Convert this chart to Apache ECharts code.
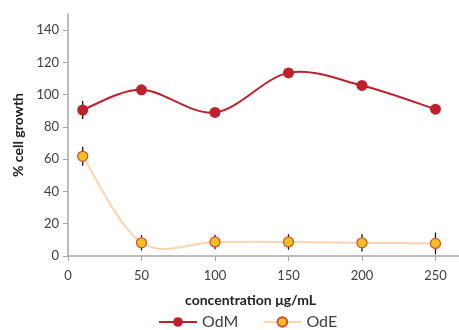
<!DOCTYPE html>
<html>
<head>
<meta charset="utf-8">
<script src="https://cdn.jsdelivr.net/npm/echarts@6/dist/echarts.min.js"></script>
<style>
  html, body { margin: 0; padding: 0; background: #fff; }
  #chart { width: 459px; height: 330px; }
</style>
</head>
<body>
<div id="chart"></div>
<script>
// Concentrations (µg/mL) and % cell growth for the two extracts
const concentrations = [10, 50, 100, 150, 200, 250];
const odmValues = [90.5, 103, 89, 113.5, 105.7, 91];
const odmErrors = [5.6, 1.5, 1.5, 1.5, 1.5, 1.5];
const odeValues = [61.8, 8.2, 8.7, 8.7, 8.2, 7.8];
const odeErrors = [5.9, 4.8, 4.5, 4.8, 5.4, 6.8];
const xTicks = [0, 50, 100, 150, 200, 250];
const yTicks = [0, 20, 40, 60, 80, 100, 120, 140];

const FONT = 'Lato, "Open Sans", sans-serif';
const AXIS_GREY = '#a6a6a6';
const TEXT = '#404040';
const ODM_RED = '#c0202a';
const ODE_LINE = '#fbd3ad';

function pairs(xs, ys) { return xs.map((x, i) => [x, ys[i]]); }

function errorData(xs, ys, es) {
  return xs.map((x, i) => [x, ys[i] - es[i], ys[i] + es[i]]);
}

// Vertical error whiskers drawn through the axis scales
function renderError(params, api) {
  const x = api.value(0);
  const lo = api.coord([x, api.value(1)]);
  const hi = api.coord([x, api.value(2)]);
  return {
    type: 'line',
    shape: { x1: lo[0], y1: lo[1], x2: hi[0], y2: hi[1] },
    style: { stroke: '#000', lineWidth: 1.2 }
  };
}

// Catmull-Rom style smoothed segment between point i and i+1
function curveRenderer(color) {
  return function (params, api) {
    const i = params.dataIndexInside;
    const n = params.dataInsideLength;
    if (i >= n - 1) return null;
    const pt = (k) => {
      const j = Math.max(0, Math.min(n - 1, k));
      return api.coord([api.value(0, j), api.value(1, j)]);
    };
    const p0 = pt(i - 1), p1 = pt(i), p2 = pt(i + 1), p3 = pt(i + 2);
    return {
      type: 'bezierCurve',
      shape: {
        x1: p1[0], y1: p1[1],
        x2: p2[0], y2: p2[1],
        cpx1: p1[0] + (p2[0] - p0[0]) / 6,
        cpy1: p1[1] + (p2[1] - p0[1]) / 6,
        cpx2: p2[0] - (p3[0] - p1[0]) / 6,
        cpy2: p2[1] - (p3[1] - p1[1]) / 6
      },
      style: { stroke: color, lineWidth: 2, fill: null }
    };
  };
}

const chart = echarts.init(document.getElementById('chart'));
chart.setOption({
  animation: false,
  textStyle: { fontFamily: FONT },
  grid: { left: 68, right: 0, top: 14, bottom: 74, containLabel: false },
  legend: {
    data: ['OdM', 'OdE'],
    left: 153,
    top: 309,
    itemWidth: 38,
    itemHeight: 12,
    itemGap: 24,
    lineStyle: { width: 2, opacity: 1 },
    textStyle: { fontSize: 16, color: TEXT, fontFamily: FONT }
  },
  xAxis: {
    type: 'value',
    min: 0,
    max: 266,
    name: 'concentration μg/mL',
    nameLocation: 'middle',
    nameGap: 37,
    nameTextStyle: { fontSize: 14, fontWeight: 'bold', color: '#222', padding: [0, 26, 0, 0], fontFamily: FONT },
    axisLine: { lineStyle: { color: AXIS_GREY, width: 1.5 } },
    axisTick: { show: true, length: 5, lineStyle: { color: AXIS_GREY }, customValues: xTicks },
    axisLabel: { color: TEXT, fontSize: 13, margin: 13, customValues: xTicks },
    splitLine: { show: false }
  },
  yAxis: {
    type: 'value',
    min: 0,
    max: 150,
    name: '% cell growth',
    nameLocation: 'middle',
    nameGap: 43,
    nameTextStyle: { fontSize: 14, fontWeight: 'bold', color: '#222', fontFamily: FONT },
    axisLine: { show: true, lineStyle: { color: AXIS_GREY, width: 1.5 } },
    axisTick: { show: true, length: 5, lineStyle: { color: AXIS_GREY }, customValues: yTicks },
    axisLabel: { color: TEXT, fontSize: 13, margin: 9, customValues: yTicks },
    splitLine: { show: false }
  },
  series: [
    {
      name: 'OdM-err',
      type: 'custom',
      renderItem: renderError,
      data: errorData(concentrations, odmValues, odmErrors),
      encode: { x: 0, y: [1, 2] },
      z: 1,
      silent: true
    },
    {
      name: 'OdE-err',
      type: 'custom',
      renderItem: renderError,
      data: errorData(concentrations, odeValues, odeErrors),
      encode: { x: 0, y: [1, 2] },
      z: 1,
      silent: true
    },
    {
      name: 'OdM-curve',
      type: 'custom',
      renderItem: curveRenderer(ODM_RED),
      data: pairs(concentrations, odmValues),
      encode: { x: 0, y: 1 },
      z: 2,
      silent: true
    },
    {
      name: 'OdE-curve',
      type: 'custom',
      renderItem: curveRenderer(ODE_LINE),
      data: pairs(concentrations, odeValues),
      encode: { x: 0, y: 1 },
      z: 2,
      silent: true
    },
    {
      name: 'OdM',
      type: 'line',
      data: pairs(concentrations, odmValues),
      symbol: 'circle',
      symbolSize: 11,
      lineStyle: { color: ODM_RED, width: 2, opacity: 0 },
      itemStyle: { color: ODM_RED, borderColor: ODM_RED, borderWidth: 0 },
      z: 4
    },
    {
      name: 'OdE',
      type: 'line',
      data: pairs(concentrations, odeValues),
      symbol: 'circle',
      symbolSize: 10,
      lineStyle: { color: ODE_LINE, width: 2, opacity: 0 },
      itemStyle: { color: '#f2c01e', borderColor: '#d24a3a', borderWidth: 1.2 },
      z: 3
    }
  ]
});
</script>
</body>
</html>
